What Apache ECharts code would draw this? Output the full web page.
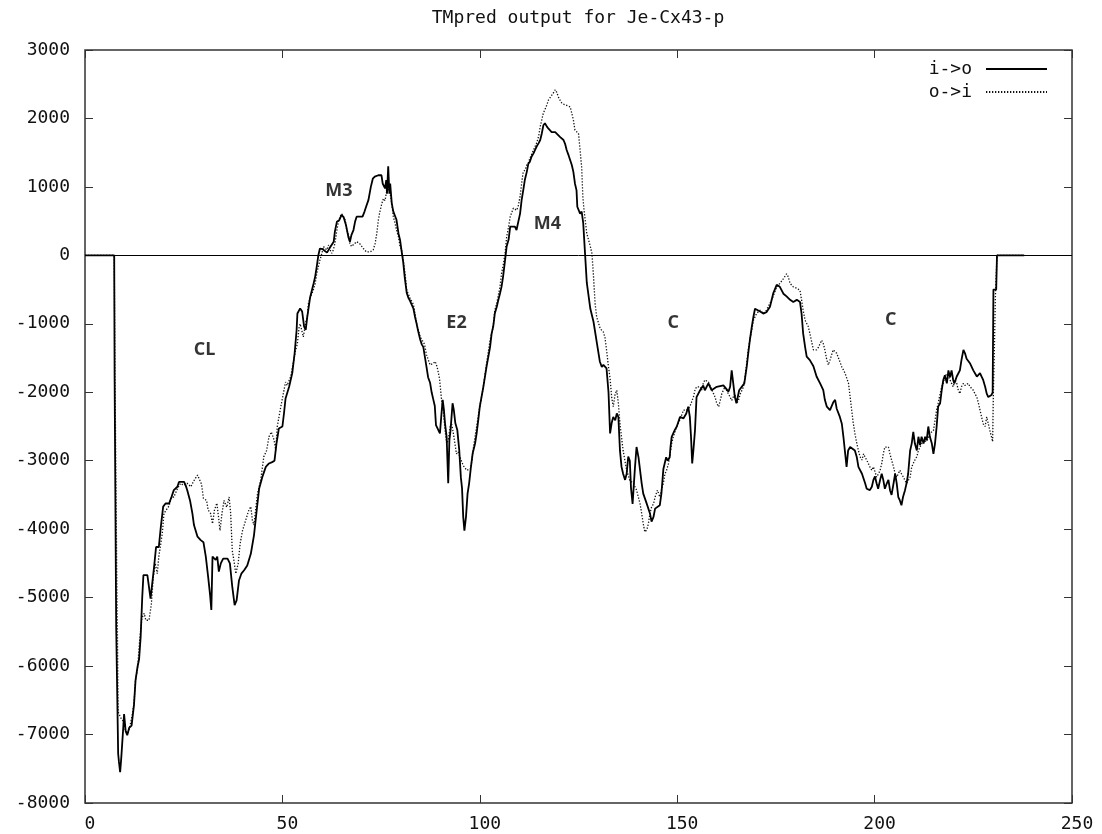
<!DOCTYPE html>
<html>
<head>
<meta charset="utf-8">
<script src="https://cdn.jsdelivr.net/npm/echarts@6/dist/echarts.min.js"></script>
<style>
  html, body { margin: 0; padding: 0; background: #fff; }
  #chart { width: 1102px; height: 834px; }
</style>
</head>
<body>
<div id="chart"></div>
<script>
// TMpred profile, [residue, score]
const inToOut = [
  [0,0],[7.4,0],[7.5,-1780],[7.8,-1780],[7.9,-5430],[8.3,-5430],[8.4,-7280],[8.6,-7400],[8.9,-7550],
  [9.2,-7330],[9.7,-6890],[9.9,-6700],[10.3,-6950],[10.7,-7010],[11.2,-6900],[11.8,-6870],[12.4,-6570],
  [12.8,-6210],[13.3,-6010],[13.7,-5900],[14.1,-5570],[14.5,-4990],[14.8,-4670],[15.8,-4670],[16.6,-5015],
  [17.1,-5015],[17.5,-4550],[18,-4260],[18.7,-4260],[19.2,-3970],[19.8,-3670],[20.4,-3625],[21.3,-3625],
  [21.9,-3530],[22.5,-3430],[23.4,-3380],[23.8,-3310],[25.1,-3310],[25.5,-3360],[25.9,-3430],[26.6,-3580],
  [27.2,-3770],[27.6,-3940],[28.5,-4110],[29.3,-4160],[30,-4190],[30.6,-4400],[31.2,-4700],[31.7,-4970],
  [32,-5180],[32.3,-4400],[33.1,-4450],[33.5,-4400],[33.9,-4620],[34.4,-4500],[35,-4430],[36.1,-4430],
  [36.7,-4500],[37.3,-4840],[37.9,-5110],[38.4,-5040],[39,-4750],[39.6,-4650],[40.3,-4600],[41.1,-4530],
  [42,-4360],[42.8,-4090],[43.5,-3720],[44.1,-3410],[44.9,-3240],[45.8,-3090],[46.6,-3040],[47.4,-3020],
  [48,-3000],[48.5,-2750],[49.1,-2530],[50,-2500],[50.4,-2310],[50.8,-2090],[51.7,-1920],[52.5,-1720],
  [53.1,-1430],[53.6,-1090],[53.8,-850],[54.5,-775],[55,-820],[55.5,-1040],[55.9,-1090],[56.3,-900],
  [57,-620],[57.9,-410],[58.3,-310],[58.7,-165],[59.1,0],[59.5,100],[60.2,90],[61.3,40],[62,110],
  [63,200],[63.3,350],[63.8,490],[64.4,515],[65,590],[65.5,560],[66.1,445],[66.7,270],[67.1,200],
  [67.5,300],[68,370],[68.4,490],[68.8,565],[69.2,590],[69.6,565],[70.3,565],[70.8,640],[71.2,710],
  [71.8,810],[72.4,1000],[72.9,1120],[73.4,1150],[74.3,1170],[75.1,1170],[75.4,1050],[76,980],[76.3,1100],
  [76.5,900],[76.8,1300],[77.1,900],[77.3,1050],[77.7,760],[78.1,640],[78.9,520],[79.4,320],[79.8,225],
  [80.2,60],[80.6,-100],[81,-330],[81.5,-550],[81.9,-620],[82.3,-660],[83.2,-780],[83.6,-900],[84,-1000],
  [84.4,-1110],[84.9,-1230],[85.3,-1300],[85.7,-1340],[86,-1450],[86.5,-1630],[86.9,-1780],[87.4,-1860],
  [87.8,-2000],[88.2,-2100],[88.6,-2200],[88.9,-2480],[89.3,-2500],[89.9,-2600],[90.3,-2310],[90.6,-2110],
  [90.9,-2250],[91.2,-2460],[91.6,-2650],[92,-3330],[92.3,-2700],[92.6,-2550],[93.1,-2160],[93.4,-2250],
  [93.8,-2450],[94.3,-2550],[94.8,-2850],[95.2,-3240],[95.5,-3400],[95.8,-3820],[96.1,-4020],[96.5,-3820],
  [96.9,-3480],[97.3,-3330],[97.7,-3120],[98.2,-2890],[98.8,-2750],[99.2,-2600],[99.6,-2410],[100,-2210],
  [100.9,-1920],[101.7,-1630],[102.6,-1340],[103,-1140],[103.4,-1040],[103.8,-850],[104.3,-750],[104.7,-650],
  [105.1,-560],[105.5,-460],[105.9,-310],[106.4,-70],[106.8,130],[107.3,230],[107.7,420],[108.1,440],
  [108.9,420],[109.3,370],[109.7,345],[110.2,610],[110.6,810],[111,950],[111.4,1100],[111.9,1220],
  [112.3,1340],[112.7,1370],[113.1,1440],[113.6,1490],[114,1540],[114.4,1590],[114.9,1640],[115.3,1685],
  [115.7,1780],[116.1,1900],[116.5,1930],[117,1880],[117.4,1850],[118.2,1800],[118.6,1780],[119.1,1800],
  [119.5,1780],[120.3,1730],[121.2,1685],[121.6,1630],[122,1540],[122.5,1460],[122.9,1390],[123.3,1320],
  [123.7,1220],[124.1,1050],[124.5,950],[124.7,710],[125.4,610],[125.8,640],[126.2,470],[126.6,80],
  [127.1,-400],[128,-780],[128.8,-970],[129.6,-1260],[130.4,-1550],[130.9,-1630],[131.3,-1600],[131.7,-1580],
  [132.1,-1650],[132.6,-2000],[133,-2600],[133.4,-2450],[133.8,-2360],[134.3,-2410],[134.7,-2310],[135.1,-2360],
  [135.5,-2850],[135.9,-3090],[136.3,-3190],[136.8,-3280],[137.2,-3190],[137.6,-2940],[138,-3000],[138.3,-3400],
  [138.7,-3630],[139.3,-3100],[139.7,-2800],[140.2,-2950],[140.6,-3140],[141,-3330],[141.4,-3480],[142.3,-3630],
  [143.1,-3770],[143.5,-3890],[144,-3820],[144.4,-3700],[145.6,-3650],[146,-3480],[146.5,-3120],[147.2,-2950],
  [147.6,-3000],[148.1,-2950],[148.3,-2800],[148.6,-2650],[149.4,-2550],[149.9,-2500],[150.7,-2360],[151.6,-2380],
  [152.3,-2310],[152.8,-2210],[153.2,-2360],[153.5,-2650],[153.8,-3040],[154.1,-2850],[154.5,-2560],[154.9,-2070],
  [155.8,-1970],[156.6,-1900],[157,-1970],[157.9,-1870],[158.7,-1970],[160,-1920],[161.7,-1900],[163,-1990],
  [163.4,-1920],[163.8,-1680],[164.2,-1870],[164.6,-2070],[165,-2160],[165.7,-1970],[167,-1870],[167.6,-1630],
  [168,-1430],[168.4,-1240],[168.9,-1040],[169.3,-900],[169.7,-780],[171,-820],[171.8,-850],[172.6,-830],
  [173.5,-750],[174.3,-560],[175.2,-430],[175.6,-410],[176,-460],[176.9,-560],[177.7,-600],[178.6,-650],
  [179.4,-680],[180.3,-650],[181.1,-680],[181.5,-850],[181.9,-1140],[182.4,-1340],[182.8,-1480],[183.6,-1530],
  [184.5,-1620],[185.3,-1770],[186.2,-1870],[187,-1970],[187.4,-2110],[187.9,-2210],[188.7,-2260],[189.5,-2150],
  [190,-2110],[190.4,-2240],[191.2,-2360],[191.7,-2460],[192.1,-2650],[192.5,-2870],[192.9,-3090],[193.3,-2850],
  [193.8,-2800],[195,-2850],[195.5,-2950],[195.9,-3090],[196.8,-3190],[197.6,-3330],[198,-3410],[198.8,-3430],
  [199.3,-3380],[199.7,-3280],[200.1,-3230],[200.5,-3330],[200.9,-3410],[201.4,-3280],[201.8,-3190],[202.2,-3280],
  [202.6,-3410],[203.1,-3330],[203.5,-3280],[203.9,-3430],[204.3,-3500],[204.8,-3330],[205.2,-3190],[205.6,-3330],
  [206,-3530],[206.4,-3580],[206.8,-3650],[207.2,-3530],[207.7,-3430],[208.1,-3330],[208.5,-3190],[209,-2850],
  [209.4,-2750],[209.8,-2580],[210.2,-2750],[210.7,-2850],[211.1,-2650],[211.5,-2770],[211.9,-2650],[212.4,-2750],
  [212.8,-2650],[213.2,-2700],[213.6,-2500],[214,-2650],[214.5,-2750],[214.9,-2900],[215.3,-2750],[215.7,-2510],
  [216.1,-2210],[216.6,-2160],[217,-1970],[217.4,-1820],[217.8,-1750],[218.3,-1870],[218.7,-1680],[219.1,-1780],
  [219.5,-1680],[219.9,-1820],[220.2,-1870],[220.8,-1770],[221.6,-1680],[222,-1530],[222.5,-1380],[222.9,-1430],
  [223.3,-1510],[224.2,-1580],[225,-1680],[225.9,-1770],[226.7,-1720],[227.1,-1770],[227.5,-1820],[228,-1920],
  [228.4,-2020],[228.8,-2070],[229.6,-2040],[229.9,-2000],[230.1,-500],[230.8,-500],[231,0],[237.9,0]
];

const outToIn = [
  [0,0],[7.4,0],[7.6,-1750],[8,-1750],[8.1,-5000],[8.2,-5430],[8.4,-6670],[9,-6750],[9.6,-6800],
  [10.3,-6950],[10.9,-6980],[11.5,-6850],[12,-6700],[12.4,-6550],[12.8,-6200],[13.3,-6050],[13.8,-5650],
  [14.4,-5300],[15,-5230],[15.4,-5330],[16.2,-5330],[16.8,-5100],[17.3,-4700],[17.8,-4500],[18.3,-4650],
  [18.7,-4400],[19.2,-4210],[19.6,-4050],[20,-3770],[20.8,-3700],[21.3,-3660],[21.9,-3530],[22.5,-3530],
  [23.4,-3410],[24.2,-3330],[25,-3360],[25.9,-3330],[26.8,-3380],[27.6,-3290],[28.5,-3210],[28.9,-3190],
  [29.5,-3340],[30,-3550],[30.8,-3580],[31.2,-3720],[31.8,-3770],[32.3,-3920],[32.8,-3720],[33.4,-3620],
  [33.9,-3860],[34.2,-4020],[34.7,-3770],[35.2,-3580],[35.9,-3680],[36.5,-3530],[36.9,-3770],[37.3,-4310],
  [37.7,-4450],[38.2,-4650],[38.8,-4500],[39.3,-4210],[39.9,-4020],[40.7,-3870],[41.5,-3720],[42,-3670],
  [42.4,-3870],[42.8,-3940],[43.2,-3720],[43.7,-3480],[44.5,-3280],[45.3,-2940],[46,-2850],[46.6,-2650],
  [47.2,-2580],[47.9,-2700],[48.3,-2850],[48.7,-2500],[49.6,-2210],[50.4,-1970],[50.8,-1850],[51.2,-1900],
  [52.1,-1770],[52.8,-1550],[53.3,-1400],[53.8,-1290],[54.2,-1060],[54.5,-1000],[55.3,-1190],[55.5,-1210],
  [56,-950],[56.3,-900],[56.6,-700],[57.2,-600],[57.8,-510],[58.3,-410],[58.7,-265],[59.5,-70],[60,30],
  [60.4,130],[61.2,80],[61.7,150],[62.1,80],[62.5,30],[62.9,80],[63.3,175],[63.8,370],[64.2,490],[64.6,565],
  [65,610],[65.5,590],[65.9,515],[66.3,370],[66.7,320],[67.1,175],[67.5,130],[68,150],[68.8,200],[69.6,170],
  [70.5,100],[71.3,50],[72.2,50],[73,80],[73.5,175],[73.9,320],[74.3,515],[74.7,640],[75.2,760],[75.6,830],
  [76,800],[76.4,930],[76.8,980],[77.3,900],[77.7,760],[78.1,565],[78.5,480],[78.9,370],[79.4,270],[79.8,130],
  [80.2,80],[80.6,-70],[81,-230],[81.5,-510],[82.3,-620],[83.2,-720],[84,-1000],[84.9,-1190],[85.3,-1200],
  [86,-1300],[86.5,-1450],[87.4,-1600],[88.2,-1580],[88.7,-1550],[89.2,-1630],[89.8,-1800],[90.3,-2100],
  [90.8,-2310],[91.2,-2550],[91.6,-2750],[92,-2700],[92.5,-2500],[92.9,-2470],[93.3,-2600],[93.7,-2750],
  [94.1,-2900],[94.5,-2870],[95,-2950],[95.8,-3070],[96.7,-3140],[97.1,-3160],[97.6,-3120],[98,-3000],
  [98.4,-2800],[98.8,-2650],[99.2,-2500],[100,-2210],[100.9,-1920],[101.7,-1580],[102.6,-1240],[103.4,-1040],
  [103.8,-800],[104.3,-700],[105.1,-460],[105.5,-270],[106,-120],[106.4,30],[106.8,270],[107.3,420],
  [107.7,565],[108.5,690],[108.9,710],[109.3,660],[109.7,710],[110.2,860],[110.6,1050],[111,1220],[111.5,1250],
  [111.9,1320],[112.3,1350],[112.7,1420],[113.6,1540],[114.4,1640],[114.9,1740],[115.3,1880],[115.7,1980],
  [116.1,2080],[116.5,2130],[117,2200],[117.4,2270],[118,2320],[118.6,2370],[119.1,2420],[119.5,2380],
  [120,2300],[120.4,2260],[120.8,2220],[121.6,2200],[122.9,2170],[123.3,2170],[123.7,1980],[124.1,1830],
  [125,1780],[125.4,1540],[125.8,1290],[126.1,860],[126.4,660],[127.1,320],[128,130],[128.4,30],[128.8,-300],
  [129.2,-700],[129.6,-900],[130.5,-1070],[131.3,-1120],[131.7,-1200],[132.1,-1380],[132.6,-1630],[133,-1800],
  [133.4,-2070],[133.8,-2210],[134.3,-2020],[134.7,-1970],[135.1,-2160],[135.5,-2460],[136.3,-2850],
  [137.2,-3140],[138,-3290],[138.9,-3330],[139.7,-3430],[140.6,-3630],[141,-3770],[141.4,-3920],[141.8,-4040],
  [142.3,-4010],[142.7,-3920],[143.1,-3770],[143.5,-3680],[144,-3630],[144.4,-3530],[145,-3430],[145.6,-3530],
  [146,-3430],[146.5,-3330],[146.9,-3190],[147.3,-3140],[147.8,-3040],[148.2,-2900],[148.6,-2750],[149,-2650],
  [149.9,-2500],[150.7,-2400],[151.6,-2260],[152.4,-2260],[153.2,-2210],[154.1,-2070],[154.5,-1970],[154.9,-1920],
  [155.8,-1920],[156.2,-1970],[156.6,-1870],[157,-1820],[157.9,-1850],[158.3,-1900],[159.2,-2020],[159.6,-2070],
  [160,-2160],[160.5,-2210],[160.9,-2120],[161.3,-2020],[162.1,-1920],[162.5,-1970],[163.4,-2070],[163.8,-2120],
  [164.6,-2020],[165.1,-2160],[165.5,-2120],[166,-2020],[166.8,-1920],[167.2,-1770],[167.6,-1580],[168,-1380],
  [168.4,-1240],[168.9,-1090],[169.3,-950],[170.1,-850],[171,-800],[171.8,-850],[172.6,-800],[173.5,-700],
  [174.3,-600],[175.2,-460],[176,-410],[176.9,-340],[177.7,-270],[178.1,-310],[178.6,-410],[179.4,-460],
  [180.3,-480],[181.1,-510],[181.5,-650],[181.9,-800],[182.4,-950],[183.2,-1040],[183.6,-1140],[184.5,-1380],
  [185.3,-1380],[185.8,-1340],[186.6,-1240],[187,-1290],[187.4,-1380],[187.9,-1530],[188.3,-1600],[188.7,-1530],
  [189.5,-1380],[190.4,-1430],[190.8,-1430],[191.7,-1630],[192.5,-1720],[193,-1720],[193.4,-1870],[193.8,-2070],
  [194.2,-2260],[194.6,-2450],[195,-2600],[195.5,-2750],[195.9,-2850],[196.3,-2940],[196.8,-2990],[197.2,-2900],
  [197.6,-2950],[198,-2990],[198.4,-3040],[198.8,-3090],[199.3,-3140],[199.7,-3090],[200.1,-3160],[200.5,-3240],
  [201,-3190],[201.4,-3140],[201.8,-3040],[202.2,-2900],[202.6,-2800],[203.1,-2780],[203.5,-2800],[203.9,-2900],
  [204.3,-2990],[204.8,-3090],[205.2,-3190],[205.6,-3240],[206,-3190],[206.4,-3140],[206.8,-3190],[207.3,-3240],
  [207.7,-3290],[208.1,-3330],[208.5,-3290],[209,-3240],[209.4,-3090],[209.8,-3040],[210.2,-2990],[210.7,-2940],
  [211.1,-2850],[211.5,-2800],[212.4,-2700],[213.2,-2720],[214,-2600],[214.9,-2560],[215.3,-2410],[215.7,-2260],
  [216.1,-2160],[216.6,-2020],[217,-1920],[217.4,-1870],[217.8,-1770],[218.3,-1730],[218.7,-1770],[219.1,-1820],
  [219.5,-1870],[219.9,-1920],[220.4,-1820],[220.8,-1870],[221.2,-1970],[221.6,-2020],[222,-1920],[222.5,-1870],
  [222.9,-1900],[223.3,-1920],[223.7,-1870],[224.2,-1920],[224.6,-1900],[225,-1970],[225.4,-2020],[225.9,-2070],
  [226.3,-2160],[226.7,-2260],[227.1,-2360],[227.5,-2460],[228,-2500],[228.4,-2360],[228.8,-2460],[229.2,-2560],
  [229.6,-2650],[229.9,-2720],[230.1,-1970],[230.3,-1480],[230.6,-600],[231,0],[237.9,0]
];

// region names written on the plot, with their positions in data units
const regionNames = ['CL', 'M3', 'E2', 'M4', 'C', 'C'];
const regionAt = [[30.3, -1380], [64.3, 940], [94.1, -985], [117.1, 460], [149, -985], [204.1, -936]];

const xMin = 0, xMax = 250, xStep = 50;
const yMin = -8000, yMax = 3000, yStep = 1000;

const mono = '"DejaVu Sans Mono", "Liberation Mono", monospace';
const chart = echarts.init(document.getElementById('chart'), null, { renderer: 'canvas' });

const tickStyle = { show: true, inside: true, length: 8, lineStyle: { color: '#333', width: 1 } };
const labelStyle = { fontFamily: mono, fontSize: 18, color: '#111' };
const plain = (v) => String(v);

chart.setOption({
  animation: false,
  backgroundColor: '#fff',
  title: {
    text: 'TMpred output for Je-Cx43-p',
    left: 578,
    top: 9,
    padding: 0,
    textAlign: 'center',
    textStyle: { fontFamily: mono, fontSize: 18, fontWeight: 'normal', color: '#111' },
  },
  legend: {
    data: ['i->o', 'o->i'],
    orient: 'vertical',
    align: 'right',
    right: 54,
    top: 60,
    itemWidth: 61,
    itemHeight: 14,
    itemGap: 5,
    padding: 0,
    selectedMode: false,
    // line only, no marker dot in the key
    itemStyle: { color: 'transparent', borderWidth: 0, opacity: 0 },
    textStyle: { fontFamily: mono, fontSize: 18, color: '#111', padding: [0, 9, 0, 0] },
  },
  grid: {
    left: 85, right: 30, top: 50, bottom: 31,
    show: true, borderColor: '#333', borderWidth: 1.5, backgroundColor: '#fff',
  },
  xAxis: [
    {
      type: 'value', min: xMin, max: xMax, interval: xStep, position: 'bottom',
      axisLine: { show: false, onZero: false },
      axisTick: tickStyle,
      splitLine: { show: false },
      axisLabel: Object.assign({ margin: 12, padding: [0, 0, 0, 10], formatter: plain }, labelStyle),
    },
    {
      type: 'value', min: xMin, max: xMax, interval: xStep, position: 'top',
      axisLine: { show: false, onZero: false },
      axisTick: tickStyle,
      splitLine: { show: false },
      axisLabel: { show: false },
    },
  ],
  yAxis: [
    {
      type: 'value', min: yMin, max: yMax, interval: yStep, position: 'left',
      axisLine: { show: false, onZero: false },
      axisTick: tickStyle,
      splitLine: { show: false },
      axisLabel: Object.assign({ margin: 15, formatter: plain }, labelStyle),
    },
    {
      type: 'value', min: yMin, max: yMax, interval: yStep, position: 'right',
      axisLine: { show: false, onZero: false },
      axisTick: tickStyle,
      splitLine: { show: false },
      axisLabel: { show: false },
    },
  ],
  series: [
    {
      name: 'i->o',
      type: 'line',
      data: inToOut,
      symbol: 'none',
      showSymbol: false,
      lineStyle: { color: '#000', width: 1.8, type: 'solid' },
      itemStyle: { color: '#000' },
      z: 3,
      markLine: {
        silent: true,
        symbol: ['none', 'none'],
        label: { show: false },
        lineStyle: { color: '#000', width: 1, type: 'solid' },
        data: [{ yAxis: 0 }],
      },
    },
    {
      name: 'o->i',
      type: 'line',
      data: outToIn,
      symbol: 'none',
      showSymbol: false,
      lineStyle: { color: '#111', width: 1.3, type: [1.3, 1.7] },
      itemStyle: { color: '#111' },
      z: 2,
    },
    {
      name: 'regions',
      type: 'scatter',
      silent: true,
      symbolSize: 0,
      data: regionNames.map((n, i) => ({ name: n, value: regionAt[i] })),
      label: {
        show: true,
        position: 'inside',
        formatter: '{b}',
        fontFamily: '"Open Sans", "Noto Sans", sans-serif',
        fontWeight: 'bold',
        fontSize: 18,
        color: '#000',
        textBorderWidth: 0,
      },
      z: 4,
    },
  ],
});
</script>
</body>
</html>
